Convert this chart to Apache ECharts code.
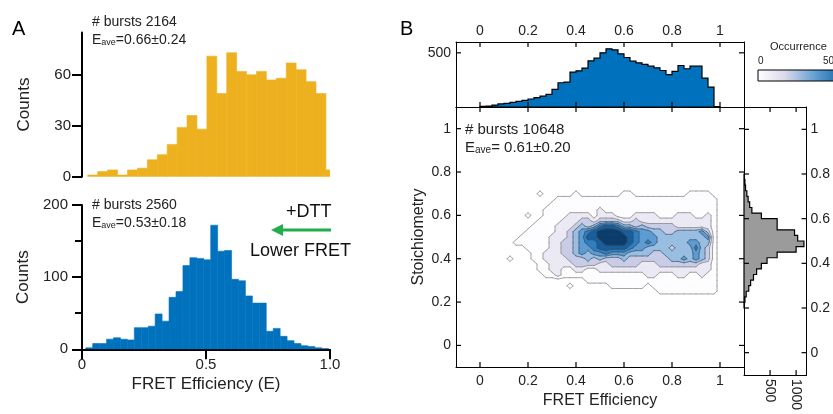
<!DOCTYPE html>
<html><head><meta charset="utf-8">
<script src="https://cdn.jsdelivr.net/npm/echarts@6/dist/echarts.min.js"></script>
<style>html,body{margin:0;padding:0;background:#fff}#c{width:833px;height:414px}</style>
</head><body><div id="c"></div>
<script>
// ---------------- DATA ----------------
// Panel A, top (before DTT): histogram bins (start, width) and counts
const aTopBinStart = 0.0235, aTopBinWidth = 0.04;
const aTopCounts = [1,3,4,1,4,5,10,13,19,29,36,28,71,49,73,62,60,62,57,58,67,63,56,49,4];
// Panel A, bottom (+DTT)
const aBotBinStart = 0.015, aBotBinWidth = 0.028;
const aBotCounts = [2,8,8,14,16,14,13,30,30,32,49,39,72,80,116,127,126,124,172,136,137,97,95,74,64,64,25,29,18,12,8,5,4,2,1];
// Panel B, FRET marginal histogram (bins of 0.025 from 0)
const bFretBinStart = 0, bFretBinWidth = 0.025;
const bFretCounts = [6,9,18,28,34,43,52,61,74,86,101,117,163,224,230,322,334,359,426,451,500,537,528,491,457,423,408,393,377,362,337,298,328,383,353,377,377,267,184,4];
// Panel B, stoichiometry marginal histogram (bins of 0.025 from S = 0.2)
const bStoichBinStart = 0.2, bStoichBinWidth = 0.025;
const bStoichCounts = [8,18,42,91,127,182,242,333,442,636,1000,1150,1030,970,636,636,333,151,109,79,55,30,18,6];
// Panel B, 2D E-S density (contour level per grid node)
const fretGridStart = 0.1, stoichGridStart = 0.2, gridStep = 0.025;
// rows listed from S = 0.800 (top) down to S = 0.200; columns E = 0.100 ... 1.000
const densityRowsTopDown = [
[0,0,0,0,0,0,0,0,0,0,0,0,0,0,0,0,0,0,0,0,0,0,0,0,0,0,0,0,0,0,0,0,0,0,0,0,0],
[0,0,0,0,0,0,0,0,0,0,0,0,0,0,0,0,0,0,0,0,0,0,0,0,0,0,0,0,0,0,0,0,0,0,0,0,0],
[0,0,0,0,0,0,0,0,0,0,0,0,0,0,0,0,0,0,0,0,0,0,0,0,0,0,0,0,0,0,0,0,0,0,0,0,0],
[0,0,0,0,0,0,0,0,0,0,0,0,0,0,0,0,0,0,0,0,0,0,0,0,0,0,0,0,0,0,0,0,0,0,0,0,0],
[0,0,0,0,0,0,1,0,0,0,0,0,1,0,0,0,0,0,0,0,1,1,0,0,0,0,0,0,0,0,0,1,1,1,1,0,0],
[0,0,0,0,0,0,0,0,0,1,1,1,1,1,1,1,1,1,1,1,1,1,1,1,1,1,1,1,1,1,1,1,1,1,1,1,0],
[0,0,0,0,0,0,0,0,1,1,1,1,1,1,1,1,1,1,1,1,1,1,1,1,1,1,1,1,1,1,1,1,1,1,1,1,0],
[0,0,0,0,0,0,0,1,1,1,1,1,1,1,1,1,2,1,1,1,1,1,1,1,1,1,1,1,1,1,1,1,1,1,1,1,0],
[0,0,0,0,1,0,0,1,1,1,1,2,2,2,2,1,2,2,2,1,1,1,2,2,2,2,1,1,1,2,2,2,1,1,2,1,0],
[0,0,0,0,0,0,1,1,1,1,2,2,2,3,3,2,3,3,3,3,2,2,3,2,2,2,2,2,2,2,2,2,2,2,2,1,0],
[0,0,0,0,0,1,1,1,1,2,2,2,3,4,3,4,6,7,7,6,4,4,3,4,3,3,3,3,3,2,2,2,2,2,2,1,0],
[0,0,0,0,1,1,1,1,1,2,2,3,4,5,6,7,8,8,8,8,7,7,6,5,5,4,4,3,3,4,4,4,4,5,3,1,0],
[0,0,0,1,1,1,1,1,2,2,2,3,4,5,7,7,8,8,8,8,8,7,6,5,5,5,4,4,4,4,4,4,4,4,5,1,0],
[0,0,1,1,1,1,1,1,2,2,3,3,4,5,6,6,7,8,8,8,8,7,6,5,6,5,4,4,4,4,4,5,5,4,4,1,0],
[0,0,0,0,1,1,1,1,2,2,3,3,4,5,5,6,7,7,7,7,7,6,5,5,4,4,4,4,3,4,4,4,6,4,3,1,0],
[0,0,0,0,0,1,1,2,2,2,3,3,4,5,4,5,5,6,5,5,5,4,4,4,4,3,3,4,4,4,4,4,5,4,3,1,0],
[0,1,0,0,0,1,1,2,2,2,2,3,3,3,4,3,4,3,3,3,4,3,3,3,3,3,3,3,4,4,5,4,5,4,3,1,0],
[0,0,0,0,0,0,1,1,2,2,2,2,3,3,3,3,2,2,3,3,3,3,3,2,2,2,3,3,3,3,3,3,3,2,2,1,0],
[0,0,0,0,0,0,1,1,2,2,1,1,2,2,1,1,2,2,2,2,2,2,2,2,2,2,2,2,2,2,2,2,2,2,2,1,0],
[0,0,0,0,0,0,0,1,1,2,1,1,1,1,1,1,1,1,1,1,1,1,1,1,2,2,1,1,1,2,2,1,1,2,1,1,0],
[0,0,0,0,0,0,0,0,0,0,0,0,0,0,1,1,1,1,1,1,1,1,1,1,1,1,1,1,1,1,1,1,1,1,1,1,0],
[0,0,0,0,0,0,0,0,0,0,0,1,0,0,0,0,0,0,1,1,1,1,1,1,0,1,1,1,1,1,1,1,1,1,1,1,0],
[0,0,0,0,0,0,0,0,0,0,0,0,0,0,0,0,0,0,0,0,0,0,0,0,0,0,1,1,1,1,1,1,1,1,1,1,0],
[0,0,0,0,0,0,0,0,0,0,0,0,0,0,0,0,0,0,0,0,0,0,0,0,0,0,0,0,0,0,0,0,0,0,0,0,0],
[0,0,0,0,0,0,0,0,0,0,0,0,0,0,0,0,0,0,0,0,0,0,0,0,0,0,0,0,0,0,0,0,0,0,0,0,0]
];
const contourLevels = [0.5,1.5,2.5,3.5,4.5,5.5,6.5,7.5];
const levelColors = ['#fdfcfe','#ebeaf4','#c8cce6','#99bee2','#5c9cd3','#2f7fc1','#17609f','#0c3d6c'];
// tick labels / tick positions
const aTopYTicks = [0,30,60];
const fretTicks = [0,0.2,0.4,0.6,0.8,1];
const stoichTicks = [0,0.2,0.4,0.6,0.8,1];
const bTopYTicks = [500];
const bRightXTicks = [500,1000];
// axis ranges of panel B
const fretRange = [-0.1, 1.1], stoichRange = [-0.1, 1.1], bTopCountRange = [0, 600], bRightCountRange = [0, 1200];

// ---------------- BUILD ----------------
const FONT = '"Liberation Sans", Arial, Helvetica, sans-serif';
const densityLevels = densityRowsTopDown.slice().reverse(); // index 0 = S 0.2
const nCols = densityLevels[0].length, nRows = densityLevels.length;
const fretGrid = Array.from({length:nCols}, (_, i) => +(fretGridStart + i*gridStep).toFixed(4));
const stoichGrid = Array.from({length:nRows}, (_, j) => +(stoichGridStart + j*gridStep).toFixed(4));
const aTopData = aTopCounts.map((c,i)=>[aTopBinStart+i*aTopBinWidth, aTopBinStart+(i+1)*aTopBinWidth, c]);
const aBotData = aBotCounts.map((c,i)=>[aBotBinStart+i*aBotBinWidth, aBotBinStart+(i+1)*aBotBinWidth, c]);
const cells = [], levelCells = [];
for (let j=0;j<nRows-1;j++) for (let i=0;i<nCols-1;i++) cells.push([fretGrid[i], stoichGrid[j], i, j]);
contourLevels.forEach((t,k)=>cells.forEach(c=>levelCells.push([c[0],c[1],c[2],c[3],k])));

function clipCell(corners, t){
  const poly=[], cross=[];
  for (let k=0;k<4;k++){
    const a=corners[k], b=corners[(k+1)%4];
    const ain=a.v>=t, bin=b.v>=t;
    if (ain) poly.push([a.x,a.y]);
    if (ain!==bin){
      const f=(t-a.v)/(b.v-a.v);
      const p=[a.x+f*(b.x-a.x), a.y+f*(b.y-a.y)];
      poly.push(p); cross.push(p);
    }
  }
  return {poly, cross, firstIn: corners[0].v>=t};
}
function cellCorners(i,j){
  return [[i,j],[i+1,j],[i+1,j+1],[i,j+1]].map(([a,b])=>({x:fretGrid[a], y:stoichGrid[b], v:densityLevels[b][a]}));
}
function barRender(params, api){
  const p0 = api.coord([api.value(0), api.value(2)]);
  const p1 = api.coord([api.value(1), 0]);
  const col = api.visual('color');
  return {type:'rect', shape:{x:p0[0], y:p0[1], width:p1[0]-p0[0], height:p1[1]-p0[1]},
    style:{fill:col, stroke:col, lineWidth:0.6}};
}
// inward box ticks for panel B, placed through the axes' coordinate mapping
const TL = 5;
function tickLines(api, xRange, yRange, xTicks, yTicks){
  const ch=[];
  const seg=(a,b)=>ch.push({type:'line', shape:{x1:a[0],y1:a[1],x2:b[0],y2:b[1]}, style:{stroke:'#000', lineWidth:1.2}});
  xTicks.forEach(v=>{
    const b=api.coord([v,yRange[0]]), t=api.coord([v,yRange[1]]);
    seg(b,[b[0],b[1]-TL]); seg(t,[t[0],t[1]+TL]);
  });
  yTicks.forEach(v=>{
    const l=api.coord([xRange[0],v]), r=api.coord([xRange[1],v]);
    seg(l,[l[0]+TL,l[1]]); seg(r,[r[0]-TL,r[1]]);
  });
  return ch;
}

const lblB = (vals, extra)=>Object.assign({show:true, customValues:vals, color:'#222', fontSize:14, fontFamily:FONT}, extra||{});
const noLbl = {show:false};
const noSplit = {show:false};
const noTick = {show:false};
const boxLine = {show:true, onZero:false, lineStyle:{color:'#000', width:1}};

const option = {
  animation:false,
  textStyle:{fontFamily:FONT},
  grid:[
    {left:82, top:32.4, width:248, height:144.3},
    {left:82, top:205, width:248, height:144.3},
    {left:456, top:42, width:288, height:65},
    {left:456, top:107, width:288, height:268},
    {left:744, top:107, width:67, height:268}
  ],
  xAxis:[
    {gridIndex:0, type:'value', min:0, max:1, show:false},
    {gridIndex:1, type:'value', min:0, max:1, interval:0.5,
      axisLine:{show:true, onZero:false, lineStyle:{color:'#000', width:2}},
      axisTick:{show:true, length:10, lineStyle:{color:'#000', width:2}},
      axisLabel:{margin:8, fontSize:15, color:'#222', formatter:v=>v===0?'0':v.toFixed(1)},
      splitLine:noSplit, name:'FRET Efficiency (E)', nameLocation:'middle', nameGap:27,
      nameTextStyle:{fontSize:17, color:'#222'}},
    {gridIndex:2, type:'value', min:fretRange[0], max:fretRange[1], position:'top', axisLine:boxLine,
      axisTick:noTick, axisLabel:lblB(fretTicks,{margin:4}), splitLine:noSplit},
    {gridIndex:2, type:'value', min:fretRange[0], max:fretRange[1], position:'bottom', axisLine:boxLine,
      axisTick:noTick, axisLabel:noLbl, splitLine:noSplit},
    {gridIndex:3, type:'value', min:fretRange[0], max:fretRange[1], position:'bottom', axisLine:boxLine,
      axisTick:noTick, axisLabel:lblB(fretTicks,{margin:7}), splitLine:noSplit,
      name:'FRET Efficiency', nameLocation:'middle', nameGap:23, nameTextStyle:{fontSize:16, color:'#222'}},
    {gridIndex:3, type:'value', min:fretRange[0], max:fretRange[1], position:'top', axisLine:boxLine,
      axisTick:noTick, axisLabel:noLbl, splitLine:noSplit},
    {gridIndex:4, type:'value', min:bRightCountRange[0], max:bRightCountRange[1], position:'bottom', axisLine:boxLine,
      axisTick:noTick, axisLabel:lblB(bRightXTicks,{rotate:-90, margin:4, formatter:v=>String(v)}), splitLine:noSplit},
    {gridIndex:4, type:'value', min:bRightCountRange[0], max:bRightCountRange[1], position:'top', axisLine:boxLine,
      axisTick:noTick, axisLabel:noLbl, splitLine:noSplit}
  ],
  yAxis:[
    {gridIndex:0, type:'value', min:0, max:85,
      axisLine:{show:true, onZero:false, lineStyle:{color:'#000', width:2}},
      axisTick:{show:true, length:10, customValues:aTopYTicks, lineStyle:{color:'#000', width:2}},
      axisLabel:{customValues:aTopYTicks, margin:11, fontSize:15, color:'#222'},
      splitLine:noSplit, name:'Counts', nameLocation:'middle', nameRotate:90, nameGap:49,
      nameTextStyle:{fontSize:17, color:'#222'}},
    {gridIndex:1, type:'value', min:0, max:200, interval:100,
      axisLine:{show:true, onZero:false, lineStyle:{color:'#000', width:2}},
      axisTick:{show:true, length:10, lineStyle:{color:'#000', width:2}},
      minorTick:{show:true, splitNumber:2, length:7, lineStyle:{color:'#000', width:2}},
      axisLabel:{margin:14, fontSize:15, color:'#222'},
      splitLine:noSplit, minorSplitLine:noSplit, name:'Counts', nameLocation:'middle', nameRotate:90, nameGap:50,
      nameTextStyle:{fontSize:17, color:'#222'}},
    {gridIndex:2, type:'value', min:bTopCountRange[0], max:bTopCountRange[1], position:'left', axisLine:boxLine,
      axisTick:noTick, axisLabel:lblB(bTopYTicks,{margin:5}), splitLine:noSplit},
    {gridIndex:2, type:'value', min:bTopCountRange[0], max:bTopCountRange[1], position:'right', axisLine:boxLine,
      axisTick:noTick, axisLabel:noLbl, splitLine:noSplit},
    {gridIndex:3, type:'value', min:stoichRange[0], max:stoichRange[1], position:'left', axisLine:boxLine,
      axisTick:noTick, axisLabel:lblB(stoichTicks,{margin:5}), splitLine:noSplit,
      name:'Stoichiometry', nameLocation:'middle', nameRotate:90, nameGap:29, nameTextStyle:{fontSize:16, color:'#222'}},
    {gridIndex:3, type:'value', min:stoichRange[0], max:stoichRange[1], position:'right', axisLine:boxLine,
      axisTick:noTick, axisLabel:noLbl, splitLine:noSplit},
    {gridIndex:4, type:'value', min:stoichRange[0], max:stoichRange[1], position:'left', axisLine:boxLine,
      axisTick:noTick, axisLabel:noLbl, splitLine:noSplit},
    {gridIndex:4, type:'value', min:stoichRange[0], max:stoichRange[1], position:'right', axisLine:boxLine,
      axisTick:noTick, axisLabel:lblB(stoichTicks,{margin:4}), splitLine:noSplit}
  ],
  series:[
    {type:'custom', name:'before DTT', xAxisIndex:0, yAxisIndex:0, clip:true, silent:true,
      itemStyle:{color:'#EDB120'}, data:aTopData, encode:{x:[0,1], y:2}, renderItem:barRender},
    {type:'custom', name:'+DTT', xAxisIndex:1, yAxisIndex:1, clip:true, silent:true,
      itemStyle:{color:'#0072BD'}, data:aBotData, encode:{x:[0,1], y:2}, renderItem:barRender},
    {type:'custom', name:'FRET marginal', xAxisIndex:2, yAxisIndex:2, silent:true, data:[[0.5,0]],
      renderItem:(params, api)=>{
        const e = i=>bFretBinStart + i*bFretBinWidth;
        const pts=[api.coord([e(0),0])];
        bFretCounts.forEach((c,i)=>{pts.push(api.coord([e(i),c])); pts.push(api.coord([e(i+1),c]));});
        pts.push(api.coord([e(bFretCounts.length),0]));
        const ch=[{type:'polygon', shape:{points:pts}, style:{fill:'#0072BD', stroke:'#000', lineWidth:1.2}}];
        return {type:'group', children:ch.concat(tickLines(api, fretRange, bTopCountRange, fretTicks, bTopYTicks))};
      }},
    {type:'custom', name:'S marginal', xAxisIndex:6, yAxisIndex:6, silent:true, data:[[0,0.5]],
      renderItem:(params, api)=>{
        const s = j=>bStoichBinStart + j*bStoichBinWidth;
        const pts=[api.coord([0,s(0)])];
        bStoichCounts.forEach((c,j)=>{pts.push(api.coord([c,s(j)])); pts.push(api.coord([c,s(j+1)]));});
        pts.push(api.coord([0,s(bStoichCounts.length)]));
        const ch=[{type:'polygon', shape:{points:pts}, style:{fill:'#9b9b9b', stroke:'#000', lineWidth:1.2}}];
        return {type:'group', children:ch.concat(tickLines(api, bRightCountRange, stoichRange, bRightXTicks, stoichTicks))};
      }},
    {type:'custom', name:'density fill', xAxisIndex:4, yAxisIndex:4, silent:true, data:levelCells, encode:{x:0,y:1},
      renderItem:(params, api)=>{
        const k = api.value(4);
        const r = clipCell(cellCorners(api.value(2), api.value(3)), contourLevels[k]);
        if (r.poly.length<3) return null;
        return {type:'polygon', shape:{points:r.poly.map(p=>api.coord(p))},
          style:{fill:levelColors[k], stroke:levelColors[k], lineWidth:0.7}};
      }},
    {type:'custom', name:'density contours', xAxisIndex:4, yAxisIndex:4, silent:true, data:cells, encode:{x:0,y:1}, z:3,
      renderItem:(params, api)=>{
        const corners = cellCorners(api.value(2), api.value(3));
        const children=[];
        contourLevels.forEach((t,k)=>{
          const r = clipCell(corners,t);
          let segs=[];
          if (r.cross.length===2) segs=[[r.cross[0],r.cross[1]]];
          else if (r.cross.length===4) segs = r.firstIn ? [[r.cross[0],r.cross[1]],[r.cross[2],r.cross[3]]]
                                                      : [[r.cross[1],r.cross[2]],[r.cross[3],r.cross[0]]];
          segs.forEach(([p,q])=>{
            const a=api.coord(p), b=api.coord(q);
            children.push({type:'line', shape:{x1:a[0],y1:a[1],x2:b[0],y2:b[1]},
              style:{stroke: k<3 ? '#8f8f8f' : '#3f4a58', lineWidth: k<3 ? 0.8 : 0.6, lineCap:'round'}});
          });
        });
        if (api.value(2)===0 && api.value(3)===0)
          children.push.apply(children, tickLines(api, fretRange, stoichRange, fretTicks, stoichTicks));
        return {type:'group', children};
      }}
  ],
  graphic:[
    {type:'text', x:12, y:29, style:{text:'A', font:'20px '+FONT, fill:'#000', textVerticalAlign:'middle'}},
    {type:'text', x:92, y:22, style:{text:'# bursts 2164', font:'14px '+FONT, fill:'#222', textVerticalAlign:'middle'}},
    {type:'text', x:92, y:40, style:{text:'{a|E}{s|ave}{a|=0.66±0.24}', textVerticalAlign:'middle',
      rich:{a:{fontSize:14, fontFamily:FONT, fill:'#222'}, s:{fontSize:9, fontFamily:FONT, fill:'#222', verticalAlign:'bottom'}}}},
    {type:'text', x:92, y:205, style:{text:'# bursts 2560', font:'14px '+FONT, fill:'#222', textVerticalAlign:'middle'}},
    {type:'text', x:92, y:223, style:{text:'{a|E}{s|ave}{a|=0.53±0.18}', textVerticalAlign:'middle',
      rich:{a:{fontSize:14, fontFamily:FONT, fill:'#222'}, s:{fontSize:9, fontFamily:FONT, fill:'#222', verticalAlign:'bottom'}}}},
    {type:'text', x:286, y:212, style:{text:'+DTT', font:'18px '+FONT, fill:'#111', textVerticalAlign:'middle'}},
    {type:'line', shape:{x1:331, y1:230, x2:280, y2:230}, style:{stroke:'#21ad4b', lineWidth:3}},
    {type:'polygon', shape:{points:[[271,230],[283,224],[283,236]]}, style:{fill:'#21ad4b'}},
    {type:'text', x:250, y:251, style:{text:'Lower FRET', font:'18px '+FONT, fill:'#111', textVerticalAlign:'middle'}},
    {type:'text', x:400, y:29, style:{text:'B', font:'20px '+FONT, fill:'#000', textVerticalAlign:'middle'}},
    {type:'text', x:465, y:130, style:{text:'# bursts 10648', font:'15px '+FONT, fill:'#222', textVerticalAlign:'middle'}},
    {type:'text', x:465, y:148, style:{text:'{a|E}{s|ave}{a|= 0.61±0.20}', textVerticalAlign:'middle',
      rich:{a:{fontSize:15, fontFamily:FONT, fill:'#222'}, s:{fontSize:10, fontFamily:FONT, fill:'#222', verticalAlign:'bottom'}}}},
    {type:'text', x:770, y:47, style:{text:'Occurrence', font:'11px '+FONT, fill:'#222', textVerticalAlign:'middle'}},
    {type:'text', x:758, y:61, style:{text:'0', font:'10px '+FONT, fill:'#222', textVerticalAlign:'middle'}},
    {type:'text', x:823, y:61, style:{text:'50', font:'10px '+FONT, fill:'#222', textVerticalAlign:'middle'}},
    {type:'rect', shape:{x:758, y:70, width:90, height:11}, style:{stroke:'#000', lineWidth:1,
      fill:{type:'linear', x:0, y:0, x2:1, y2:0, colorStops:[
        {offset:0, color:'#ffffff'},{offset:0.3, color:'#dcd9ec'},{offset:0.65, color:'#5c9dd0'},{offset:1, color:'#08589e'}]}}}
  ]
};
const chart = echarts.init(document.getElementById('c'), null, {renderer:'canvas'});
chart.setOption(option);
</script></body></html>
